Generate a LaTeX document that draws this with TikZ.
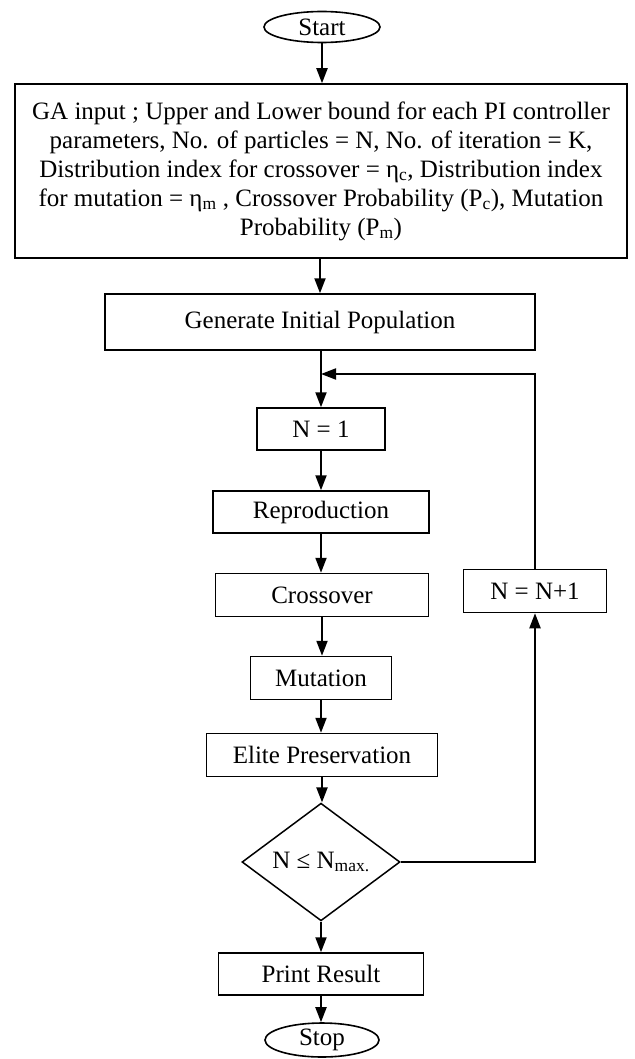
\documentclass[tikz,border=0pt]{standalone}
\usepackage{fontspec}
\setmainfont{Liberation Serif}
\usetikzlibrary{shapes.geometric, arrows.meta, positioning, calc}

\begin{document}
\begin{tikzpicture}[x=1pt,y=-1pt,font=\fontsize{25}{29}\selectfont,
    box/.style={rectangle,draw,line width=1.5pt,inner sep=0pt,minimum height=43pt},
    term/.style={ellipse,draw,line width=1.6pt,inner sep=0pt,minimum width=116pt},
    cond/.style={diamond,draw,line width=1.5pt,inner sep=0pt,minimum width=158pt,minimum height=90pt},
    flow/.style={line width=2pt,-{Triangle[length=15pt,width=11pt]}}]
    \useasboundingbox (0,0) rectangle (634,1059);

    % Start and GA input
    \node[term,minimum height=31pt] (start) at (322,27) {Start};
    \node[box,minimum width=612pt,minimum height=174pt,align=center] (input) at (321,171) {
        GA input ; Upper and Lower bound for each PI controller \\
        parameters, No. of particles = N, No. of iteration = K, \\
        Distribution index for crossover = η\textsubscript{c}, Distribution index \\
        for mutation = η\textsubscript{m} , Crossover Probability (P\textsubscript{c}), Mutation \\
        Probability (P\textsubscript{m})
    };
    \node[box,minimum width=430pt,minimum height=56pt] (gen) at (320,322) {Generate Initial Population};

    % GA loop
    \node[box,minimum width=128pt,minimum height=42pt] (n1) at (321,429) {N = 1};
    \node[box,minimum width=216pt,minimum height=42pt] (repro) at (321,512) {Reproduction};
    \node[box,minimum width=213pt] (cross) at (322,595) {Crossover};
    \node[box,minimum width=141pt] (mut) at (321,678) {Mutation};
    \node[box,minimum width=231pt] (elite) at (322,755) {Elite Preservation};
    \node[cond] (check) at (321,862) {N ≤ N\textsubscript{max.}};
    \node[box,minimum width=143pt] (inc) at (535,591) {N = N+1};
    \coordinate (join) at (321,374);

    % End
    \node[box,minimum width=205pt,minimum height=42pt] (print) at (321,974) {Print Result};
    \node[term,minimum width=114pt,minimum height=34pt] (stop) at (322,1040) {Stop};

    % Connectors
    \draw[flow] (start) -- (start |- input.north);
    \draw[flow] (input.south -| gen) -- (gen);
    \draw[flow] (gen.south -| n1) -- (n1);
    \draw[flow] (n1) -- (n1 |- repro.north);
    \draw[flow] (repro) -- (repro |- cross.north);
    \draw[flow] (cross) -- (cross |- mut.north);
    \draw[flow] (mut) -- (mut |- elite.north);
    \draw[flow] (elite) -- (elite |- check.north);
    \draw[flow] (check) -- (check |- print.north);
    \draw[flow] (print) -- (print |- stop.north);
    \draw[flow] (check.east) -| (inc.south);
    \draw[flow] (inc.north) |- (join);
\end{tikzpicture}
\end{document}
